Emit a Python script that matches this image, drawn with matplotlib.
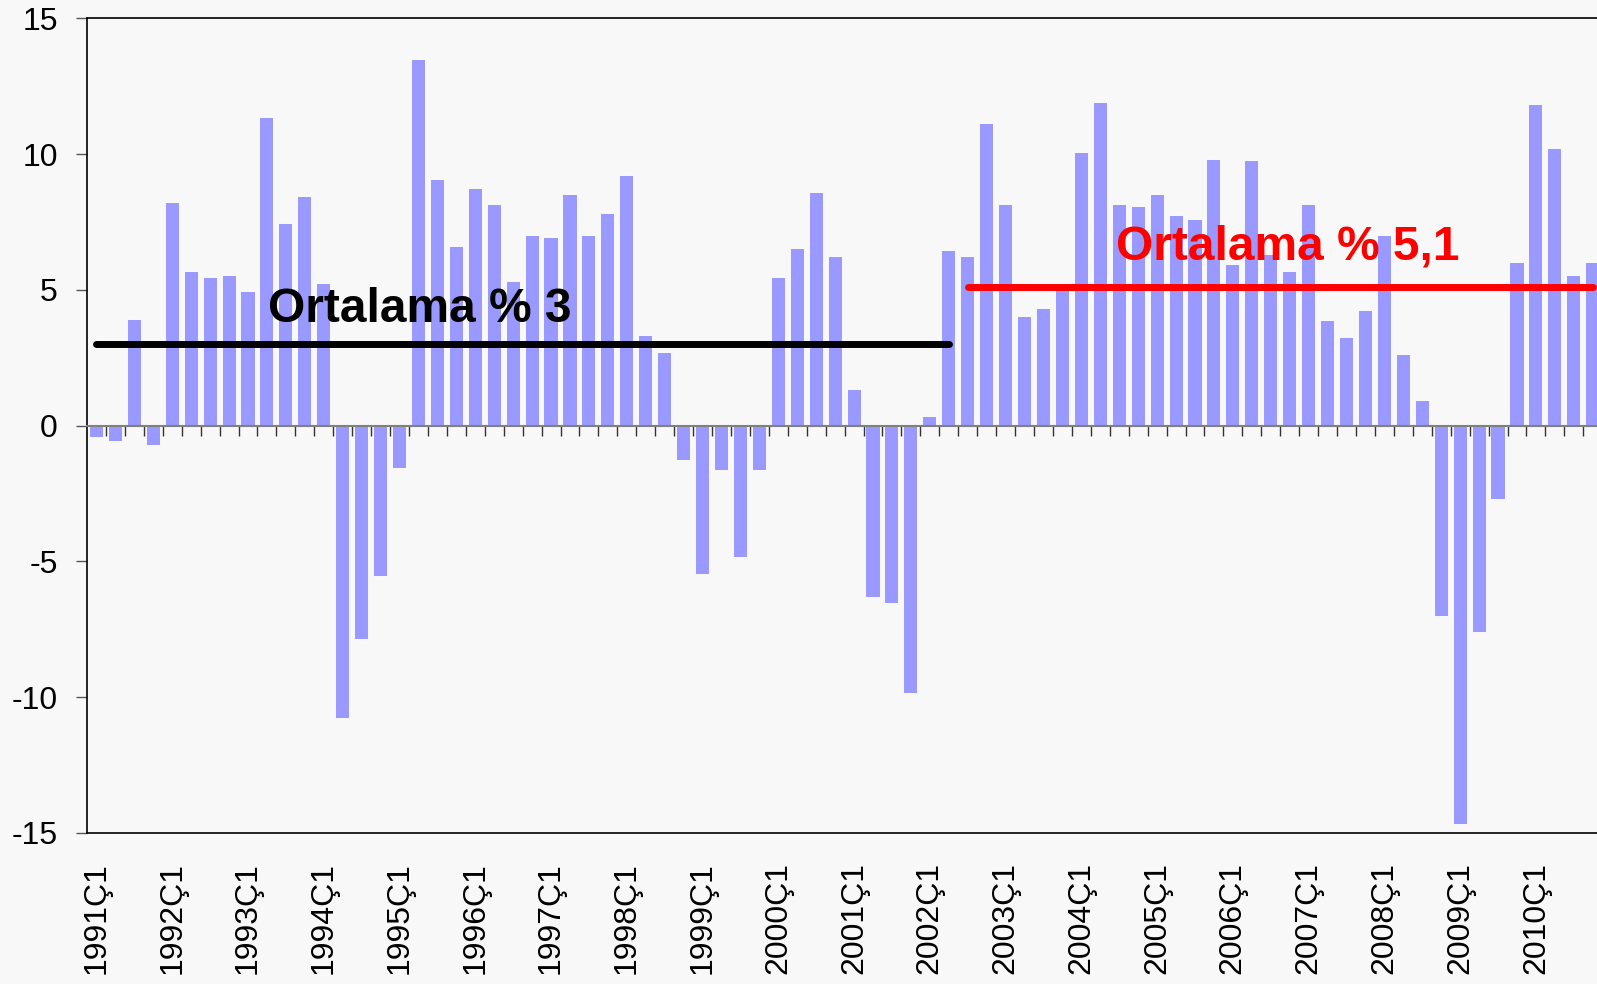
import numpy as np
import matplotlib
matplotlib.use("Agg")
import matplotlib.pyplot as plt

# ------------------- Data ------------------- #

years = list(range(1991, 2011))
quarters = [f"{y}Ç{q}" for y in years for q in range(1, 5)]

growth = [
    -0.40, -0.55, 3.89, -0.70,      # 1991
    8.20, 5.66, 5.44, 5.51,         # 1992
    4.92, 11.33, 7.43, 8.42,        # 1993
    5.22, -10.75, -7.84, -5.52,     # 1994
    -1.55, 13.46, 9.04, 6.58,       # 1995
    8.71, 8.13, 5.29, 6.98,         # 1996
    6.91, 8.49, 6.98, 7.79,         # 1997
    9.19, 3.30, 2.68, -1.26,        # 1998
    -5.45, -1.63, -4.82, -1.63,     # 1999
    5.44, 6.51, 8.56, 6.20,         # 2000
    1.31, -6.31, -6.52, -9.84,      # 2001
    0.32, 6.43, 6.20, 11.11,        # 2002
    8.13, 4.00, 4.30, 5.00,         # 2003
    10.03, 11.88, 8.13, 8.05,       # 2004
    8.49, 7.72, 7.57, 9.78,         # 2005
    5.91, 9.75, 6.28, 5.66,         # 2006
    8.13, 3.85, 3.23, 4.22,         # 2007
    6.98, 2.60, 0.91, -7.01,        # 2008
    -14.67, -7.60, -2.70, 5.98,     # 2009
    11.80, 10.18, 5.51, 5.98,       # 2010
]

# average lines: (first quarter, last quarter, value, label)
avg_periods = [
    ("1991Ç1", "2002Ç2", 3.0, "Ortalama % 3"),
    ("2002Ç3", "2010Ç4", 5.1, "Ortalama % 5,1"),
]
avg_colors = ["black", "#FF0000"]
label_quarters = [f"{y}Ç1" for y in years]

# ------------------- Chart ------------------- #

plt.rcParams["font.family"] = ["Liberation Sans", "DejaVu Sans"]
plt.rcParams["axes.unicode_minus"] = False
bg = "#F8F8F8"

fig = plt.figure(figsize=(15.97, 9.84), dpi=100, facecolor=bg)
ax = fig.add_axes([87 / 1597, 151 / 984, 1515.2 / 1597, 814.7 / 984], facecolor=bg)

x = np.arange(len(quarters))
ax.bar(x, growth, width=0.69, color="#9999FF", zorder=2)

ax.set_xlim(-0.5, len(quarters) - 0.5)
ax.set_ylim(-15, 15)
ax.set_yticks(np.arange(-15, 16, 5))
ax.tick_params(axis="y", direction="out", length=8, width=1, color="#555555",
               labelsize=23, pad=13)

# category axis crossing at zero with boundary ticks
ax.spines["bottom"].set_position(("data", 0))
ax.spines["bottom"].set_color("#808080")
ax.spines["bottom"].set_linewidth(1.5)
ax.spines["bottom"].set_zorder(3)
ax.set_xticks(x[:-1] + 0.5)
ax.tick_params(axis="x", direction="out", length=7, width=1, color="#333333",
               labelbottom=False)
for side in ["top", "left", "right"]:
    ax.spines[side].set_color("black")
    ax.spines[side].set_linewidth(1.2)

# labels along the bottom frame
sec = ax.secondary_xaxis(0)
sec.set_xticks([quarters.index(q) for q in label_quarters])
sec.set_xticklabels(label_quarters, rotation=90, fontsize=23)
sec.tick_params(axis="x", length=0, pad=21)
sec.spines["bottom"].set_color("black")
sec.spines["bottom"].set_linewidth(1.2)

# average lines and labels
text_pos = [(9.05, 3.83), (53.83, 6.13)]
for (q0, q1, val, txt), col, (tx, ty) in zip(avg_periods, avg_colors, text_pos):
    i0, i1 = quarters.index(q0), quarters.index(q1)
    ax.plot([i0, i1], [val, val], color=col, lw=5, solid_capstyle="round", zorder=4)
    ax.text(tx, ty, txt, color=col, fontsize=34.5, fontweight="bold",
            ha="left", va="baseline", zorder=5)

fig.savefig("out.png", dpi=100, facecolor=bg)
